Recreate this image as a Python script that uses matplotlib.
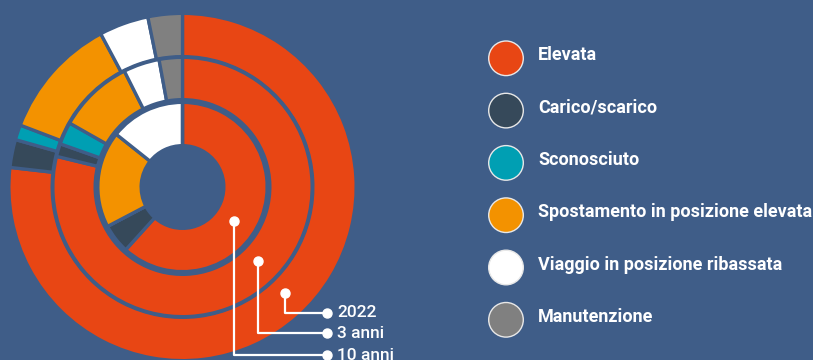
import matplotlib.pyplot as plt
from matplotlib.patches import Circle

# shares (%) per cause, one list per ring
categories = ["Elevata", "Carico/scarico", "Sconosciuto",
              "Spostamento in posizione elevata",
              "Viaggio in posizione ribassata", "Manutenzione"]
year_2022 = [76.8, 2.6, 1.4, 11.4, 4.6, 3.2]
three_years = [78.8, 1.6, 2.8, 9.4, 4.5, 2.9]
ten_years = [61.7, 5.6, 0.0, 18.4, 14.3, 0.0]
ring_labels = ["2022", "3 anni", "10 anni"]

colors = ["#E84614", "#36495A", "#009FB3", "#F39200", "#FFFFFF", "#808080"]
bg = "#3F5D88"

W, H = 813, 360
cx, cy, R = 182.5, 187, 172.0   # pie centre / radius in pixels


def px(x, y):
    # pixel position (from top-left) -> data units around the pie centre
    return (x - cx) / R, (cy - y) / R


fig = plt.figure(figsize=(W / 100, H / 100), dpi=100, facecolor=bg)
ax = fig.add_axes([0, 0, 1, 1])
ax.set_facecolor(bg)

lw_px = 3.3
half = lw_px / 2
rings = [(year_2022, 132, 172), (three_years, 89, 128), (ten_years, 43, 83)]
for values, r_in, r_out in rings:
    ax.pie(values, radius=(r_out + half) / R, startangle=90, counterclock=False,
           colors=colors,
           wedgeprops=dict(width=(r_out - r_in + 2 * half) / R, edgecolor=bg,
                           linewidth=lw_px * 0.72))

x0, x1 = px(0, 0)[0], px(W, 0)[0]
y1, y0 = px(0, 0)[1], px(0, H)[1]
ax.set_xlim(x0, x1)
ax.set_ylim(y0, y1)
ax.set_aspect("auto")
ax.axis("off")

# leader lines from each ring to its label
leaders = [((285, 293.3), 312.7), ((258, 260.7), 333.3), ((234.3, 220.7), 355)]
end_x = 326.7
for label, ((sx, sy), ly) in zip(ring_labels, leaders):
    xs, ys = zip(px(sx, sy), px(sx, ly), px(end_x, ly))
    ax.plot(xs, ys, color="white", lw=1.6, solid_capstyle="round", clip_on=False)
    ax.plot([xs[0], xs[2]], [ys[0], ys[2]], "o", color="white", ms=6.5, clip_on=False)
    tx, ty = px(337, ly)
    ax.text(tx, ty, label, color="white", fontsize=12.5, family="Roboto",
            fontweight="medium", va="center", ha="left")

# legend
for i, (name, c) in enumerate(zip(categories, colors)):
    y = 58.3 + i * 52.3
    ccx, ccy = px(506, y)
    ax.add_patch(Circle((ccx, ccy), 17.3 / R, facecolor=c, edgecolor="#E8E8E8",
                        lw=1.0, clip_on=False))
    tx, ty = px(538, y - 3)
    ax.text(tx, ty, name, color="white", fontsize=13, family="Roboto",
            fontweight="bold", va="center", ha="left")

fig.savefig("out.png", dpi=100, facecolor=bg)
